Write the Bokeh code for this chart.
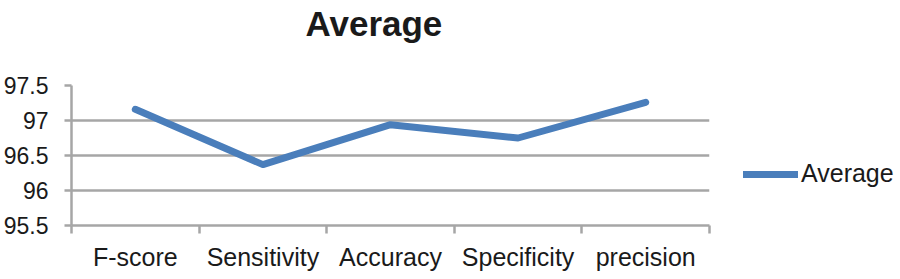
from bokeh.plotting import figure
from bokeh.models import Range1d, FixedTicker, Title, Legend, LegendItem
from bokeh.embed import file_html
from bokeh.resources import INLINE

categories = ["F-score", "Sensitivity", "Accuracy", "Specificity", "precision"]
average = [97.16, 96.37, 96.94, 96.75, 97.26]
y_ticks = [95.5, 96, 96.5, 97, 97.5]
y_labels = ["95.5", "96", "96.5", "97", "97.5"]
series_name = "Average"

FONT = "Liberation Sans"
TEXT = "#1a1a1a"
GRID = "#a6a6a6"
LINE = "#4a7ebb"

x = [i + 0.5 for i in range(len(categories))]

p = figure(width=884, height=263, output_backend="svg", toolbar_location=None,
           x_range=Range1d(0, len(categories)), y_range=Range1d(95.5, 97.5),
           frame_width=638, frame_height=140,
           min_border_left=70, min_border_right=176, min_border_top=85, min_border_bottom=38)
p.outline_line_color = None
p.background_fill_color = "white"

r = p.line(x, average, line_color=LINE, line_width=7, line_cap="round", line_join="round")

# Title (with a blank white spacer between title and frame)
p.title.text = ""
spacer = Title(text=".", text_font_size="2px", standoff=40, text_color="white")
p.add_layout(spacer, "above")
t = Title(text="Average", align="left", vertical_align="bottom", text_font=FONT,
          text_font_size="35px", text_font_style="bold", text_color=TEXT,
          offset=234, standoff=0, text_line_height=0.9)
p.add_layout(t, "above")

# Axes
xa = p.xaxis[0]
xa.ticker = FixedTicker(ticks=x, minor_ticks=list(range(len(categories) + 1)))
xa.major_label_overrides = {xi: c for xi, c in zip(x, categories)}
xa.major_tick_out = 0
xa.major_tick_in = 0
xa.minor_tick_out = 8
xa.minor_tick_in = 0
xa.minor_tick_line_color = GRID
xa.minor_tick_line_width = 2.5
xa.axis_line_color = GRID
xa.axis_line_width = 2.5
xa.major_label_text_font = FONT
xa.major_label_text_font_size = "25px"
xa.major_label_text_color = TEXT
xa.major_label_standoff = 9

ya = p.yaxis[0]
ya.ticker = FixedTicker(ticks=y_ticks, minor_ticks=[])
ya.major_label_overrides = {v: l for v, l in zip(y_ticks, y_labels)}
ya.major_tick_out = 7
ya.major_tick_in = 0
ya.major_tick_line_color = GRID
ya.major_tick_line_width = 2.5
ya.axis_line_color = GRID
ya.axis_line_width = 2.5
ya.major_label_text_font = FONT
ya.major_label_text_font_size = "23px"
ya.major_label_text_color = TEXT
ya.major_label_standoff = 16

p.xgrid.grid_line_color = None
p.ygrid.grid_line_color = GRID
p.ygrid.grid_line_width = 2.5

legend = Legend(items=[LegendItem(label=series_name, renderers=[r])],
                location=(34, 37), glyph_width=55, glyph_height=24,
                label_text_font=FONT, label_text_font_size="25px", label_text_color=TEXT,
                label_standoff=3, padding=0, margin=0, spacing=0,
                border_line_color=None, background_fill_alpha=0)
p.add_layout(legend, "right")

open("out.html", "w").write(file_html(p, INLINE))
